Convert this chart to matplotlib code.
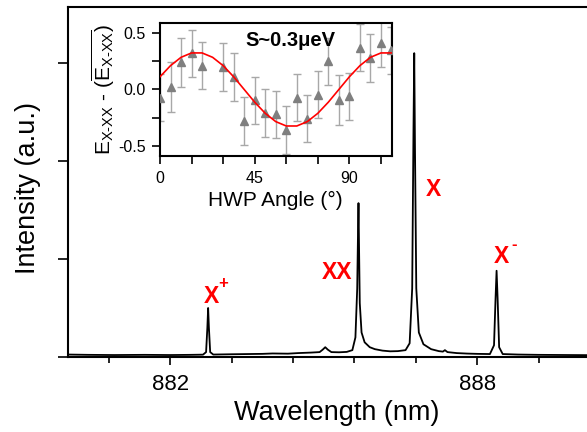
import matplotlib
matplotlib.use("Agg")
import matplotlib.pyplot as plt
from matplotlib.ticker import MultipleLocator, FixedLocator

plt.rcParams['font.family'] = ['Liberation Sans', 'DejaVu Sans']
plt.rcParams['mathtext.fontset'] = 'custom'
plt.rcParams['mathtext.rm'] = 'Liberation Sans'
plt.rcParams['mathtext.it'] = 'Liberation Sans:italic'
plt.rcParams['mathtext.bf'] = 'Liberation Sans:bold'

# ---- main PL spectrum (wavelength nm, intensity a.u.) ----
wavelength = [880.00, 880.40, 880.90, 881.50, 882.00, 882.40, 882.64, 882.70, 882.725, 882.74,
              882.755, 882.78, 882.84, 883.20, 883.50, 883.80, 884.00, 884.30, 884.50, 884.75,
              884.92, 884.98, 885.03, 885.08, 885.15, 885.30, 885.45, 885.56, 885.62, 885.655,
              885.67, 885.68, 885.69, 885.705, 885.74, 885.80, 885.90, 886.00, 886.15, 886.30,
              886.45, 886.60, 886.68, 886.73, 886.755, 886.77, 886.785, 886.81, 886.86, 886.95,
              887.10, 887.25, 887.33, 887.37, 887.42, 887.60, 887.80, 888.00, 888.25, 888.33,
              888.36, 888.38, 888.40, 888.43, 888.50, 888.80, 889.20, 889.80, 890.50]
intensity = [0.025, 0.022, 0.020, 0.022, 0.020, 0.022, 0.024, 0.05, 0.30, 0.50,
             0.30, 0.05, 0.025, 0.028, 0.030, 0.032, 0.036, 0.034, 0.040, 0.045,
             0.05, 0.075, 0.10, 0.075, 0.05, 0.048, 0.052, 0.07, 0.20, 0.70,
             1.25, 1.57, 1.15, 0.55, 0.25, 0.15, 0.10, 0.08, 0.065, 0.058,
             0.060, 0.070, 0.14, 0.70, 2.30, 3.10, 2.10, 0.70, 0.25, 0.13,
             0.08, 0.06, 0.055, 0.07, 0.05, 0.04, 0.035, 0.032, 0.03, 0.12,
             0.60, 0.88, 0.60, 0.10, 0.03, 0.025, 0.022, 0.020, 0.018]

# ---- inset: E_X-XX deviation vs HWP angle ----
hwp_angle = [0, 5, 10, 15, 20, 30, 35, 40, 45, 50, 55, 60, 65, 70, 75, 80, 85, 90, 95, 100, 105, 110]
energy_dev = [-0.075, 0.02, 0.24, 0.32, 0.21, 0.20, 0.11, -0.28, -0.095, -0.21, -0.22, -0.36,
              -0.075, -0.26, -0.045, 0.25, -0.095, -0.06, 0.37, 0.28, 0.41, 0.35]
energy_err = [0.21, 0.22, 0.22, 0.21, 0.21, 0.21, 0.21, 0.21, 0.21, 0.21, 0.21, 0.21,
              0.21, 0.21, 0.21, 0.21, 0.22, 0.21, 0.21, 0.21, 0.21, 0.21]

fit_angle = [0, 5, 10, 15, 20, 25, 30, 35, 40, 45, 50, 55, 60, 65, 70, 75, 80, 85, 90, 95, 100, 105, 110]
fit_value = [0.113, 0.212, 0.286, 0.325, 0.325, 0.286, 0.212, 0.113, 0.0, -0.113, -0.212, -0.286,
             -0.325, -0.325, -0.286, -0.212, -0.113, 0.0, 0.113, 0.212, 0.286, 0.325, 0.325]

W, H = 587, 432
fig = plt.figure(figsize=(W / 100, H / 100), dpi=100)

# main axes (extends past right edge, like the cropped original)
ax = fig.add_axes([68 / W, 75 / H, 537 / W, 350 / H])
ax.plot(wavelength, intensity, color='black', lw=1.3)
ax.set_xlim(880.0, 890.5)
ax.set_ylim(0, 3.571)
ax.xaxis.set_major_locator(FixedLocator([882, 888]))
ax.xaxis.set_minor_locator(FixedLocator([880.8, 883.2, 884.4, 885.6, 886.8, 889.2, 890.4]))
ax.yaxis.set_major_locator(MultipleLocator(1))
ax.set_yticklabels([])
ax.tick_params(axis='x', which='major', direction='out', length=6, width=1.2, labelsize=16, pad=6)
ax.tick_params(axis='x', which='minor', direction='out', length=4, width=1.2)
ax.tick_params(axis='y', which='major', direction='out', length=7, width=1.2)
for s in ax.spines.values():
    s.set_linewidth(1.5)
ax.set_xlabel('Wavelength (nm)', fontsize=19.5)
ax.xaxis.set_label_coords(0.5, -0.16)
ax.xaxis.label.set_va('center')
ax.set_ylabel('Intensity (a.u.)', fontsize=19.5)
ax.yaxis.set_label_coords(-0.0745, 0.484)
ax.yaxis.label.set_va('center')
ax.yaxis.label.set_ha('center')

red = '#ff0000'
lab_kw = dict(color=red, fontsize=16.5, fontweight='bold', ha='center', va='center')
sup_kw = dict(color=red, fontsize=12, fontweight='bold', ha='center', va='center')
ax.text(882.80, 0.617, 'X', **lab_kw)
ax.text(883.03, 0.745, '+', **sup_kw)
ax.text(885.26, 0.867, 'XX', **lab_kw)
ax.text(887.15, 1.714, 'X', **lab_kw)
ax.text(888.47, 1.026, 'X', **lab_kw)
ax.text(888.73, 1.150, '-', **sup_kw)

# inset
axi = fig.add_axes([160 / W, (H - 156) / H, 231.7 / W, 133.3 / H])
axi.errorbar(hwp_angle, energy_dev, yerr=energy_err, fmt='none', ecolor='#a8a8a8',
             elinewidth=1.0, capsize=3, capthick=1.0, zorder=2)
axi.plot(hwp_angle, energy_dev, linestyle='none', marker='^', markersize=6,
         color='#7f7f7f', zorder=3)
axi.plot(fit_angle, fit_value, color='#ff0000', lw=1.2, zorder=4)
axi.set_xlim(0, 110.1)
axi.set_ylim(-0.592, 0.594)
axi.xaxis.set_major_locator(MultipleLocator(45))
axi.xaxis.set_minor_locator(MultipleLocator(15))
axi.yaxis.set_major_locator(MultipleLocator(0.5))
axi.yaxis.set_minor_locator(MultipleLocator(0.25))
axi.set_yticks([-0.5, 0.0, 0.5])
axi.set_yticklabels(['-0.5', '0.0', '0.5'])
axi.tick_params(which='major', direction='out', length=6, width=1.2, labelsize=11.5, pad=4)
axi.tick_params(which='minor', direction='out', length=6, width=1.2)
axi.tick_params(axis='x', which='both', pad=5)
for s in axi.spines.values():
    s.set_linewidth(1.5)
axi.set_xlabel('HWP Angle (°)', fontsize=15)
axi.xaxis.set_label_coords(0.496, -0.33)
axi.xaxis.label.set_va('center')
axi.set_ylabel(r'E$_{\mathrm{X\text{-}XX}}$ - ($\overline{\mathrm{E}_{\mathrm{X\text{-}XX}}}$)', fontsize=15)
axi.yaxis.set_label_coords(-0.246, 0.5)
axi.yaxis.label.set_va('center')
axi.yaxis.label.set_ha('center')
axi.text(0.561, 0.87, 'S~0.3μeV', transform=axi.transAxes, fontsize=14.5,
         fontweight='bold', ha='center', va='center')

fig.savefig('out.png', dpi=100)
